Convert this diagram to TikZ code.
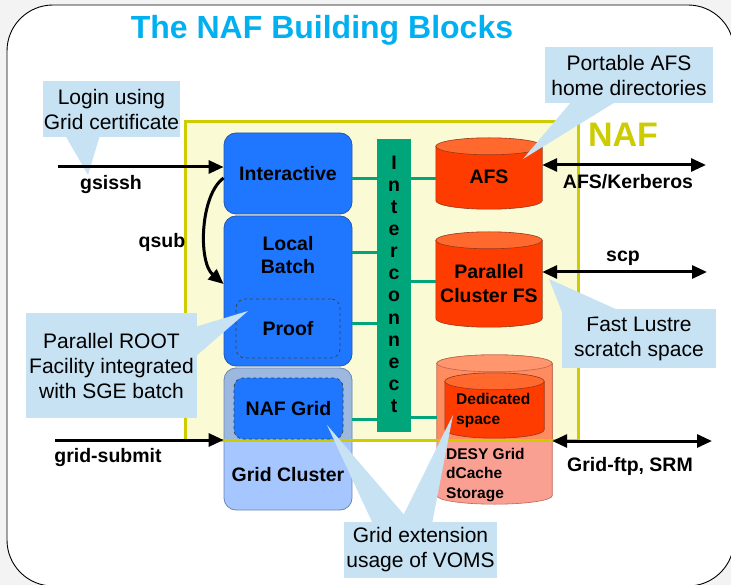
\documentclass[tikz,border=0pt]{standalone}
\usepackage{fontspec}
\setmainfont{Liberation Sans}
\usetikzlibrary{arrows.meta,calc}

% colours
\definecolor{pagegray}{RGB}{243,243,243}
\definecolor{titlecyan}{RGB}{0,176,240}
\definecolor{nafyellow}{RGB}{204,204,0}
\definecolor{naffill}{RGB}{250,250,212}
\definecolor{blockblue}{RGB}{31,119,255}
\definecolor{blockedge}{RGB}{40,85,170}
\definecolor{gridlow}{RGB}{165,198,255}
\definecolor{gridup}{RGB}{156,184,222}
\definecolor{gridedge}{RGB}{110,135,180}
\definecolor{icgreen}{RGB}{0,166,122}
\definecolor{fsbody}{RGB}{255,60,0}
\definecolor{fstop}{RGB}{255,105,45}
\definecolor{fsedge}{RGB}{150,55,30}
\definecolor{desylow}{RGB}{249,160,146}
\definecolor{desyup}{RGB}{255,140,95}
\definecolor{desytop}{RGB}{255,150,110}
\definecolor{desyedge}{RGB}{190,100,80}
\definecolor{notefill}{RGB}{198,226,243}

\newcommand{\bigbf}{\fontsize{19.5}{23.5}\selectfont\bfseries}
\newcommand{\smallbf}{\fontsize{15.5}{19.5}\selectfont\bfseries}
\newcommand{\notefont}{\fontsize{21}{25}\selectfont}

% cylinder drawn round a named (invisible) node: node, body, cap, edge
\newcommand{\drum}[4]{%
  \filldraw[fill=#2, draw=#4, line width=0.6pt] let \p1=(#1.north west), \p2=(#1.south east) in
    (\x1,\y1-8.5pt) -- (\x1,\y2+8.5pt)
    arc[start angle=180, end angle=360, x radius={(\x2-\x1)/2}, y radius=8.5pt]
    -- (\x2,\y1-8.5pt) -- cycle;
  \filldraw[fill=#3, draw=#4, line width=0.6pt] let \p1=(#1.north west), \p2=(#1.south east) in
    ({(\x1+\x2)/2},\y1-8.5pt) ellipse[x radius={(\x2-\x1)/2}, y radius=8.5pt];
}

\tikzset{
  block/.style={draw=blockedge, fill=blockblue, line width=0.8pt, rounded corners=12pt,
    minimum width=128pt, font=\bigbf, align=center, inner sep=0pt},
  subblock/.style={draw=black!75, dashed, fill=blockblue, line width=0.7pt, rounded corners=9pt,
    font=\bigbf, inner sep=0pt},
  lbl/.style={font=\bigbf, align=center, inner sep=0pt},
  drumbox/.style={inner sep=0pt},
  link/.style={icgreen, line width=3pt},
  arr/.style={line width=3pt, -{Triangle[length=15pt,width=13pt]}},
  dblarr/.style={line width=3pt, {Triangle[length=15pt,width=13pt]}-{Triangle[length=15pt,width=13pt]}},
  note/.style={fill=notefill, font=\notefont, align=center, inner sep=0pt},
  ptr/.style={fill=notefill},
}

\begin{document}
\begin{tikzpicture}[x=1pt,y=-1pt]
\useasboundingbox (0,0) rectangle (731,585);
\clip (0,0) rectangle (731,585);
\fill[pagegray] (0,0) rectangle (731,585);
\draw[fill=white, line width=0.9pt, rounded corners=46pt] (7,5) rectangle (734,586);

\node[font=\fontsize{32}{38}\selectfont\bfseries, text=titlecyan] (title) at (322,30) {The NAF Building Blocks};

% NAF area
\node[fill=naffill, minimum width=392pt, minimum height=318pt, inner sep=0pt] (naf) at (382,281) {};
\node[font=\fontsize{34}{40}\selectfont\bfseries, text=nafyellow, inner sep=0pt] (naflbl) at (623,135) {NAF};

% blocks partly outside NAF
\node[block, draw=gridedge, fill=gridlow, minimum height=142pt,
  path picture={\fill[gridup] (naf.north west) rectangle (naf.south east);}] (grid) at (288,439) {};
\node[drumbox, minimum width=115pt, minimum height=149pt] (desy) at (494.5,429.5) {};
\drum{desy}{desylow}{desytop}{desyedge}
\begin{scope}
  \clip (naf.north west) rectangle (naf.south east);
  \drum{desy}{desyup}{desytop}{desyedge}
\end{scope}
\draw[nafyellow, line width=3pt] (naf.north west) rectangle (naf.south east);

% compute side
\node[block, minimum height=81pt] (inter) at (288,173.5) {Interactive};
\node[block, minimum height=150pt] (batch) at (288,291) {};
\node[lbl] (batchtxt) at (288,255) {Local\\Batch};
\node[subblock, minimum width=104pt, minimum height=59pt] (proof) at (288,328.5) {Proof};
\node[subblock, minimum width=109pt, minimum height=61pt] (nafgrid) at (288.5,408.5) {NAF Grid};
\node[lbl] (gridtxt) at (288,475) {Grid Cluster};

% interconnect
\node[fill=icgreen, minimum width=34pt, minimum height=293pt, inner sep=0pt] (ic) at (394,285.5) {};
\foreach \ch [count=\k] in {I,n,t,e,r,c,o,n,n,e,c,t}
  \node[lbl, anchor=base] (ic\k) at (394,148+22*\k) {\ch};

% storage side
\node[drumbox, minimum width=106pt, minimum height=71pt] (afs) at (489,173.5) {};
\drum{afs}{fsbody}{fstop}{fsedge}
\node[lbl] (afstxt) at (489,177) {AFS};
\node[drumbox, minimum width=106pt, minimum height=95pt] (pfs) at (489,279.5) {};
\drum{pfs}{fsbody}{fstop}{fsedge}
\node[lbl] (pfstxt) at (489,283.5) {Parallel\\Cluster FS};
\node[drumbox, minimum width=99pt, minimum height=65pt] (ded) at (494.5,405.5) {};
\drum{ded}{fsbody}{fstop}{fsedge}
\node[lbl, font=\smallbf, align=left, anchor=west] (dedtxt) at (456,410.5) {Dedicated\\space};
\node[lbl, font=\smallbf, align=left, anchor=west] (desytxt) at (446,475) {DESY Grid\\dCache\\Storage};

\draw[link] (inter.east |- 0,179) -- (ic.west |- 0,179);
\draw[link] (batch.east |- 0,253) -- (ic.west |- 0,253);
\draw[link] (batch.east |- 0,324) -- (ic.west |- 0,324);
\draw[link] (grid.east |- 0,419) -- (ic.west |- 0,419);
\draw[link] (ic.east |- 0,179) -- (afs.west |- 0,179);
\draw[link] (ic.east |- 0,282) -- (pfs.west |- 0,282);
\draw[link] (ic.east |- 0,417) -- (desy.west |- 0,417);

% callouts
\node[note, minimum width=137pt, minimum height=56pt] (login) at (111.5,109) {Login using\\Grid certificate};
\coordinate (logintip) at (88,175);
\fill[ptr] (65,135) -- (logintip) -- (100,135) -- cycle;
\node[note, minimum width=168pt, minimum height=56pt] (homes) at (629,75) {Portable AFS\\home directories};
\coordinate (homestip) at (523,159);
\fill[ptr] (572,101) -- (homestip) -- (617,101) -- cycle;
\node[note, minimum width=171pt, minimum height=105pt] (proofnote) at (111.5,365.5) {Parallel ROOT\\Facility integrated\\with SGE batch};
\coordinate (prooftip) at (248,311);
\fill[ptr] (195,327) -- (prooftip) -- (195,357) -- cycle;
\node[note, minimum width=154pt, minimum height=59pt] (lustre) at (639,338.5) {Fast Lustre\\scratch space};
\coordinate (lustretip) at (549,279);
\fill[ptr] (620,311) -- (lustretip) -- (566,322) -- cycle;
\node[note, minimum width=153pt, minimum height=56pt] (voms) at (420.5,550) {Grid extension\\usage of VOMS};
\coordinate (vomstipa) at (327,425);
\coordinate (vomstipb) at (453,415);
\fill[ptr] (373,524) -- (vomstipa) -- (412,524) -- cycle;
\fill[ptr] (399,524) -- (vomstipb) -- (432,524) -- cycle;

% access paths
\coordinate (gsin) at (58,167);
\draw[arr] (gsin) -- (inter.west |- gsin);
\node[lbl] (gsisshlbl) at (111,185) {gsissh};
\draw[arr] (inter.west |- 0,178) .. controls (200,195) and (198,262) .. (batch.west |- 0,284);
\node[lbl] (qsublbl) at (162,242) {qsub};
\coordinate (gsub) at (55,440);
\draw[arr] (gsub) -- (grid.west |- gsub);
\node[lbl] (gsublbl) at (108,457) {grid-submit};
\coordinate (kerb) at (706,165);
\draw[dblarr] (afs.east |- kerb) -- (kerb);
\node[lbl] (kerblbl) at (628,182) {AFS/Kerberos};
\coordinate (scpend) at (707,272);
\draw[dblarr] (pfs.east |- scpend) -- (scpend);
\node[lbl] (scplbl) at (623,258) {scp};
\coordinate (ftp) at (712,441);
\draw[dblarr] (desy.east |- ftp) -- (ftp);
\node[lbl] (ftplbl) at (630,466) {Grid-ftp, SRM};
\end{tikzpicture}
\end{document}
